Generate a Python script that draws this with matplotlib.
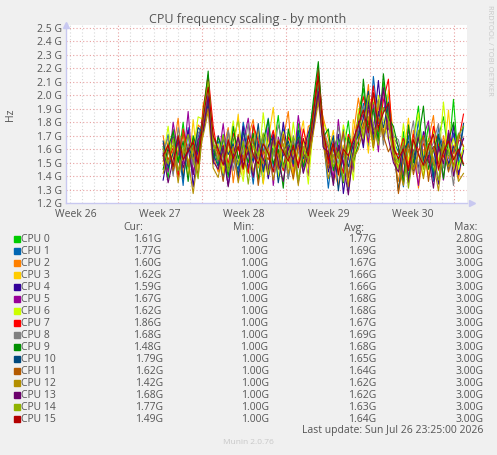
import matplotlib
matplotlib.use('Agg')
import matplotlib.pyplot as plt
import pandas as pd

# month view, one sample every 10 hours (values in GHz)
START = '2026-07-01 18:00'
STEP = '10h'

cpu_names = ['CPU %d' % i for i in range(16)]
colors = ['#00CC00', '#0066B3', '#FF8000', '#FFCC00', '#330099', '#990099', '#CCFF00', '#FF0000',
          '#808080', '#008F00', '#00487D', '#B35A00', '#B38F00', '#6B006B', '#8FB300', '#B30000']

cpu0 = [1.62, 1.38, 1.75, 1.51, 1.80, 1.45, 1.68, 1.57, 1.88, 2.12, 1.62,
        1.48, 1.71, 1.39, 1.66, 1.82, 1.54, 1.43, 1.77, 1.60, 1.35, 1.72, 1.58, 1.85, 1.47, 1.63, 1.41, 1.79, 1.56, 1.68,
        1.92, 2.18, 1.74, 1.52, 1.36, 1.69, 1.58, 1.81, 1.44,
        1.86, 2.05, 1.72, 1.95, 1.68, 2.10, 1.88, 1.60,
        1.45, 1.73, 1.39, 1.66, 1.92, 1.51, 1.78, 1.42, 1.69, 1.84, 1.55, 1.97, 1.48, 1.61]
cpu1 = [1.55, 1.71, 1.42, 1.64, 1.33, 1.76, 1.49, 1.69, 1.81, 2.02, 1.58,
        1.66, 1.37, 1.74, 1.52, 1.45, 1.80, 1.61, 1.34, 1.70, 1.57, 1.83, 1.46, 1.62, 1.75, 1.38, 1.59, 1.72, 1.43, 1.65,
        1.85, 2.08, 1.69, 1.31, 1.62, 1.48, 1.75, 1.29, 1.57,
        1.73, 1.94, 1.62, 2.14, 1.79, 1.88, 2.01, 1.66,
        1.58, 1.32, 1.70, 1.54, 1.81, 1.47, 1.63, 1.36, 1.76, 1.59, 1.44, 1.72, 1.51, 1.77]
cpu2 = [1.70, 1.48, 1.59, 1.83, 1.41, 1.63, 1.52, 1.78, 1.74, 1.96, 1.55,
        1.43, 1.60, 1.76, 1.35, 1.64, 1.51, 1.69, 1.82, 1.46, 1.58, 1.39, 1.73, 1.55, 1.67, 1.88, 1.42, 1.61, 1.50, 1.77,
        1.79, 2.00, 1.83, 1.68, 1.45, 1.33, 1.60, 1.52, 1.71,
        1.98, 1.76, 2.08, 1.64, 1.92, 1.73, 1.85, 1.55,
        1.36, 1.62, 1.49, 1.74, 1.31, 1.58, 1.67, 1.85, 1.44, 1.70, 1.53, 1.63, 1.38, 1.60]
cpu3 = [1.48, 1.66, 1.53, 1.71, 1.60, 1.39, 1.82, 1.45, 1.93, 2.05, 1.70,
        1.59, 1.44, 1.68, 1.57, 1.86, 1.40, 1.62, 1.53, 1.75, 1.34, 1.66, 1.91, 1.49, 1.58, 1.72, 1.37, 1.64, 1.81, 1.46,
        1.76, 2.10, 1.64, 1.57, 1.74, 1.40, 1.63, 1.35, 1.82,
        1.68, 1.90, 1.57, 1.99, 1.84, 1.66, 2.04, 1.71,
        1.29, 1.55, 1.83, 1.47, 1.68, 1.58, 1.40, 1.76, 1.62, 1.50, 1.89, 1.43, 1.71, 1.62]
cpu4 = [1.37, 1.58, 1.69, 1.43, 1.56, 1.74, 1.32, 1.61, 1.79, 1.98, 1.49,
        1.70, 1.55, 1.33, 1.62, 1.49, 1.77, 1.44, 1.66, 1.52, 1.71, 1.38, 1.59, 1.46, 1.80, 1.54, 1.67, 1.35, 1.58, 1.72,
        1.83, 2.04, 1.66, 1.43, 1.59, 1.71, 1.27, 1.55, 1.66,
        1.81, 1.61, 1.97, 1.74, 2.11, 1.69, 1.80, 1.63,
        1.51, 1.68, 1.37, 1.59, 1.46, 1.73, 1.55, 1.62, 1.34, 1.66, 1.48, 1.78, 1.41, 1.59]
cpu5 = [1.60, 1.43, 1.80, 1.57, 1.49, 1.88, 1.41, 1.63, 1.86, 1.92, 1.64,
        1.51, 1.79, 1.46, 1.58, 1.37, 1.65, 1.83, 1.50, 1.62, 1.44, 1.76, 1.33, 1.69, 1.55, 1.62, 1.47, 1.85, 1.58, 1.40,
        1.90, 2.02, 1.72, 1.60, 1.38, 1.82, 1.49, 1.66, 1.43,
        1.77, 1.86, 1.65, 1.93, 1.58, 2.06, 1.75, 1.69,
        1.62, 1.40, 1.75, 1.56, 1.33, 1.69, 1.81, 1.48, 1.60, 1.37, 1.74, 1.57, 1.66, 1.67]
cpu6 = [1.53, 1.77, 1.46, 1.62, 1.70, 1.51, 1.59, 1.84, 1.82, 2.08, 1.60,
        1.64, 1.42, 1.57, 1.81, 1.53, 1.36, 1.71, 1.62, 1.48, 1.87, 1.55, 1.64, 1.39, 1.73, 1.46, 1.80, 1.52, 1.66, 1.34,
        1.77, 2.06, 1.80, 1.71, 1.55, 1.46, 1.78, 1.62, 1.37,
        1.90, 1.70, 1.84, 1.59, 2.00, 1.82, 1.67, 1.74,
        1.44, 1.79, 1.52, 1.65, 1.87, 1.40, 1.61, 1.73, 1.50, 1.95, 1.56, 1.68, 1.45, 1.62]
cpu7 = [1.64, 1.52, 1.61, 1.39, 1.75, 1.58, 1.67, 1.50, 1.90, 2.15, 1.77,
        1.55, 1.63, 1.49, 1.72, 1.60, 1.54, 1.42, 1.78, 1.66, 1.51, 1.61, 1.74, 1.56, 1.44, 1.69, 1.62, 1.48, 1.75, 1.59,
        1.88, 2.20, 1.78, 1.49, 1.66, 1.57, 1.42, 1.71, 1.60,
        1.84, 1.99, 1.78, 2.07, 1.73, 1.96, 2.12, 1.58,
        1.56, 1.68, 1.45, 1.71, 1.59, 1.64, 1.50, 1.77, 1.63, 1.54, 1.70, 1.47, 1.66, 1.86]
cpu8 = [1.58, 1.69, 1.40, 1.76, 1.55, 1.64, 1.48, 1.72, 1.77, 2.00, 1.68,
        1.61, 1.50, 1.74, 1.44, 1.67, 1.57, 1.79, 1.41, 1.60, 1.69, 1.47, 1.55, 1.78, 1.63, 1.38, 1.70, 1.58, 1.45, 1.68,
        1.81, 1.96, 1.75, 1.63, 1.50, 1.77, 1.55, 1.41, 1.69,
        1.74, 1.92, 1.69, 1.86, 1.97, 1.63, 1.90, 1.70,
        1.67, 1.49, 1.62, 1.81, 1.42, 1.70, 1.56, 1.65, 1.79, 1.46, 1.59, 1.33, 1.72, 1.68]
cpu9 = [1.45, 1.61, 1.73, 1.50, 1.66, 1.36, 1.70, 1.58, 1.84, 2.18, 1.52,
        1.69, 1.58, 1.41, 1.77, 1.53, 1.64, 1.50, 1.72, 1.37, 1.66, 1.82, 1.49, 1.60, 1.31, 1.75, 1.57, 1.69, 1.47, 1.62,
        1.96, 2.25, 1.69, 1.75, 1.44, 1.61, 1.35, 1.69, 1.51,
        1.63, 2.12, 1.74, 1.90, 1.66, 2.16, 1.83, 1.77,
        1.61, 1.35, 1.78, 1.50, 1.67, 1.92, 1.45, 1.59, 1.71, 1.38, 1.66, 1.80, 1.57, 1.48]
cpu10 = [1.66, 1.46, 1.57, 1.69, 1.38, 1.61, 1.54, 1.76, 1.72, 1.94, 1.57,
         1.47, 1.68, 1.56, 1.64, 1.40, 1.73, 1.59, 1.51, 1.79, 1.43, 1.62, 1.70, 1.35, 1.58, 1.66, 1.49, 1.74, 1.53, 1.61,
         1.78, 2.09, 1.62, 1.54, 1.70, 1.29, 1.58, 1.47, 1.64,
         1.70, 1.83, 2.03, 1.67, 1.88, 1.76, 1.95, 1.62,
         1.29, 1.59, 1.66, 1.44, 1.73, 1.52, 1.64, 1.39, 1.70, 1.58, 1.47, 1.62, 1.55, 1.79]
cpu11 = [1.51, 1.64, 1.44, 1.58, 1.72, 1.47, 1.62, 1.40, 1.76, 1.90, 1.63,
         1.57, 1.36, 1.65, 1.50, 1.71, 1.46, 1.60, 1.68, 1.33, 1.59, 1.52, 1.67, 1.45, 1.71, 1.54, 1.38, 1.63, 1.56, 1.49,
         1.74, 2.01, 1.68, 1.46, 1.62, 1.53, 1.73, 1.39, 1.58,
         1.66, 1.78, 1.89, 1.61, 1.83, 1.70, 1.58, 1.66,
         1.27, 1.52, 1.64, 1.41, 1.58, 1.70, 1.36, 1.62, 1.49, 1.66, 1.43, 1.58, 1.71, 1.62]
cpu12 = [1.42, 1.57, 1.63, 1.35, 1.60, 1.52, 1.27, 1.55, 1.70, 1.88, 1.46,
         1.39, 1.58, 1.47, 1.62, 1.35, 1.54, 1.66, 1.43, 1.58, 1.49, 1.61, 1.37, 1.55, 1.64, 1.42, 1.59, 1.33, 1.62, 1.50,
         1.72, 1.95, 1.64, 1.38, 1.56, 1.44, 1.61, 1.32, 1.53,
         1.60, 1.75, 1.84, 1.62, 1.96, 1.71, 1.80, 1.52,
         1.48, 1.33, 1.60, 1.45, 1.57, 1.38, 1.63, 1.50, 1.29, 1.61, 1.47, 1.55, 1.36, 1.42]
cpu13 = [1.57, 1.35, 1.52, 1.66, 1.46, 1.60, 1.41, 1.67, 1.74, 1.99, 1.51,
         1.45, 1.62, 1.32, 1.56, 1.69, 1.48, 1.58, 1.39, 1.64, 1.53, 1.44, 1.71, 1.50, 1.36, 1.61, 1.52, 1.67, 1.42, 1.57,
         1.76, 2.03, 1.61, 1.58, 1.33, 1.63, 1.49, 1.26, 1.59,
         1.79, 1.64, 1.93, 1.71, 1.85, 2.05, 1.68, 1.50,
         1.43, 1.63, 1.35, 1.58, 1.69, 1.47, 1.55, 1.31, 1.62, 1.49, 1.72, 1.40, 1.57, 1.68]
cpu14 = [1.60, 1.49, 1.68, 1.44, 1.57, 1.71, 1.53, 1.38, 1.85, 2.10, 1.66,
         1.52, 1.70, 1.43, 1.59, 1.48, 1.66, 1.34, 1.63, 1.55, 1.72, 1.41, 1.58, 1.67, 1.46, 1.56, 1.69, 1.37, 1.61, 1.53,
         1.84, 2.12, 1.71, 1.62, 1.47, 1.58, 1.36, 1.64, 1.50,
         1.86, 1.68, 2.00, 1.77, 1.63, 1.91, 1.82, 1.56,
         1.50, 1.66, 1.31, 1.57, 1.74, 1.45, 1.68, 1.53, 1.37, 1.64, 1.59, 1.46, 1.70, 1.77]
cpu15 = [1.55, 1.63, 1.47, 1.70, 1.52, 1.59, 1.65, 1.49, 1.83, 2.06, 1.70,
         1.60, 1.48, 1.67, 1.53, 1.62, 1.45, 1.70, 1.56, 1.49, 1.64, 1.57, 1.43, 1.66, 1.58, 1.51, 1.63, 1.46, 1.68, 1.55,
         1.86, 2.14, 1.73, 1.52, 1.64, 1.41, 1.60, 1.55, 1.67,
         1.78, 1.89, 1.72, 2.02, 1.76, 1.87, 1.94, 1.61,
         1.53, 1.60, 1.44, 1.67, 1.56, 1.48, 1.62, 1.71, 1.45, 1.58, 1.66, 1.52, 1.60, 1.49]

series = [cpu0, cpu1, cpu2, cpu3, cpu4, cpu5, cpu6, cpu7,
          cpu8, cpu9, cpu10, cpu11, cpu12, cpu13, cpu14, cpu15]

# legend numbers as munin prints them
cur = ['1.61G', '1.77G', '1.60G', '1.62G', '1.59G', '1.67G', '1.62G', '1.86G',
       '1.68G', '1.48G', '1.79G', '1.62G', '1.42G', '1.68G', '1.77G', '1.49G']
mins = ['1.00G'] * 16
avgs = ['1.77G', '1.69G', '1.67G', '1.66G', '1.66G', '1.68G', '1.68G', '1.67G',
        '1.69G', '1.68G', '1.65G', '1.64G', '1.62G', '1.62G', '1.63G', '1.64G']
maxs = ['2.80G'] + ['3.00G'] * 15

yticks = [1.2 + 0.1 * i for i in range(14)]
week_labels = ['Week 26', 'Week 27', 'Week 28', 'Week 29', 'Week 30']
week_pos = pd.to_datetime(['2026-06-24 12:00', '2026-07-01 12:00', '2026-07-08 12:00',
                           '2026-07-15 12:00', '2026-07-22 12:00'])
last_update = 'Last update: Sun Jul 26 23:25:00 2026'

W, H = 497, 455
TXT = '#555555'
plt.rcParams['font.family'] = ['Open Sans', 'DejaVu Sans']


def fx(x):
    return x / W


def fy(y):
    return 1 - y / H


fig = plt.figure(figsize=(W / 100, H / 100), dpi=100, facecolor='#F0F0F0')
ax = fig.add_axes([fx(66), fy(203), fx(467) - fx(66), fy(25) - fy(203)])
ax.set_facecolor('white')

ax.set_xlim(pd.Timestamp('2026-06-23 16:00'), pd.Timestamp('2026-07-27 01:00'))
ax.set_ylim(1.2, 2.522)

# grid: daily minor, weekly (Sunday) major, every 0.1 G on y
for d in pd.date_range('2026-06-24', '2026-07-26', freq='D'):
    major = d.dayofweek == 6
    ax.axvline(d, color='#E8A0A0' if major else '#D8D8D8', lw=0.8,
               ls=(0, (1, 2)), zorder=0)
for v in yticks[1:]:
    ax.axhline(v, color='#E8A0A0', lw=0.8, ls=(0, (1, 2)), zorder=0)

for name, vals, c in zip(cpu_names, series, colors):
    t = pd.date_range(START, periods=len(vals), freq=STEP)
    ax.plot(t, vals, color=c, lw=0.8, zorder=2)

ax.set_yticks(yticks)
ax.set_yticklabels(['%.1f G' % v for v in yticks])
ax.set_xticks(week_pos)
ax.set_xticklabels(week_labels)
ax.tick_params(axis='both', length=0, labelsize=7.5, colors=TXT, pad=3)
ax.tick_params(axis='x', pad=4)
for s in ['top', 'right']:
    ax.spines[s].set_visible(False)
for s in ['left', 'bottom']:
    ax.spines[s].set_color('#C8C8F0')
    ax.spines[s].set_linewidth(1.0)
ax.plot([0], [1.0], marker='^', ms=4, color='#C8C8F0', transform=ax.transAxes, clip_on=False)
ax.plot([1.012], [0], marker='>', ms=4, color='#C8C8F0', transform=ax.transAxes, clip_on=False)

fig.text(fx(248), fy(20), 'CPU frequency scaling - by month', ha='center', va='center',
         fontsize=9, color=TXT)
fig.text(fx(10), fy(115), 'Hz', rotation=90, ha='center', va='center', fontsize=7.5, color=TXT)
fig.text(fx(489), fy(5), 'RRDTOOL / TOBI OETIKER', rotation=270, ha='center', va='top',
         fontsize=5.5, color='#C8C8C8')

# legend table
for label, xr in zip(['Cur:', 'Min:', 'Avg:', 'Max:'], [143, 254, 364, 477]):
    fig.text(fx(xr), fy(228), label, ha='right', va='center', fontsize=7.5, color=TXT)
for i, name in enumerate(cpu_names):
    y = 239 + 12 * i
    fig.patches.append(plt.Rectangle((fx(14), fy(y + 3)), fx(6), fy(y - 3) - fy(y + 3),
                                     transform=fig.transFigure, color=colors[i]))
    fig.text(fx(21), fy(y), name, ha='left', va='center', fontsize=7.5, color=TXT)
    sh = 2 if i >= 10 else 0
    fig.text(fx(161 + sh), fy(y), cur[i], ha='right', va='center', fontsize=7.5, color=TXT)
    fig.text(fx(268 + sh / 2), fy(y), mins[i], ha='right', va='center', fontsize=7.5, color=TXT)
    fig.text(fx(376), fy(y), avgs[i], ha='right', va='center', fontsize=7.5, color=TXT)
    fig.text(fx(483), fy(y), maxs[i], ha='right', va='center', fontsize=7.5, color=TXT)

fig.text(fx(483), fy(431), last_update, ha='right', va='center', fontsize=7.5, color=TXT)
fig.text(fx(248), fy(443), 'Munin 2.0.76', ha='center', va='center', fontsize=6, color='#C8C8C8')

fig.savefig('out.png', dpi=100, facecolor=fig.get_facecolor())
